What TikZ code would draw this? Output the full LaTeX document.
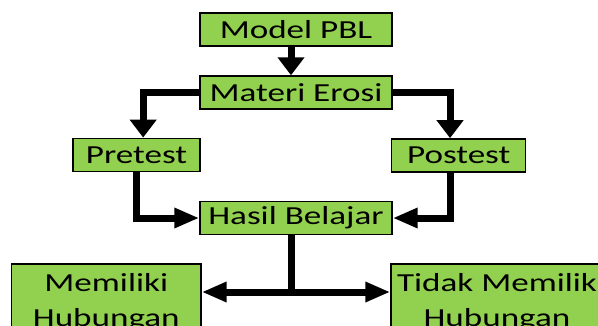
\documentclass[tikz,border=0pt]{standalone}
\usepackage{fontspec}
\setmainfont[FakeStretch=1.35]{Carlito}
\usetikzlibrary{arrows.meta}
\definecolor{hijau}{RGB}{146,208,80}
\tikzset{
    kotak/.style={draw=black, line width=1.1pt, fill=hijau, inner sep=0pt, align=center, font=\fontsize{19.5}{26}\selectfont},
    garis/.style={line width=5.25pt},
    panahv/.style={garis, -{Triangle[length=13.5pt,width=19.5pt]}},
    panahh/.style={garis, -{Triangle[length=18.75pt,width=14.25pt]}},
}

\begin{document}
\begin{tikzpicture}[x=0.75pt,y=0.75pt,yscale=-1,xscale=1]
%set diagram size 598 x 325
\clip (0,0) rectangle (598,325);

% Boxes
\node (model) [kotak, minimum width=144pt, minimum height=24.75pt] at (296,29.7) {Model PBL};
\node (materi) [kotak, minimum width=144pt, minimum height=24.75pt] at (296,92.5) {Materi Erosi};
\node (pretest) [kotak, minimum width=95.25pt, minimum height=25pt] at (136.5,155) {Pretest};
\node (postest) [kotak, minimum width=100.5pt, minimum height=24.75pt] at (458.7,155.4) {Postest};
\node (hasil) [kotak, minimum width=144pt, minimum height=24.75pt] at (296,218) {Hasil Belajar};
\node (memiliki) [kotak, minimum width=142pt, minimum height=58pt] at (106.3,302.5) {Memiliki\\Hubungan};
\node (tidak) [kotak, minimum width=159pt, minimum height=58pt] at (497,302.5) {Tidak Memilik\\Hubungan};

%Branch point
\coordinate (cabang) at (291,292);

% Arrows
\draw [panahv] ([xshift=-3.75pt]model.south) -- ([xshift=-3.75pt]materi.north);
\draw [panahv] (materi.west) -| ([xshift=5pt]pretest.north);
\draw [panahv] (materi.east) -| ([xshift=-6.5pt]postest.north);
\draw [panahh] (pretest.south) |- (hasil.west);
\draw [panahh] ([xshift=-6pt]postest.south) |- (hasil.east);
\draw [garis] (hasil.south -| cabang) -- (cabang);
\draw [panahh] (cabang) -- (cabang -| memiliki.east);
\draw [panahh] (cabang) -- (cabang -| tidak.west);

\end{tikzpicture}
\end{document}
